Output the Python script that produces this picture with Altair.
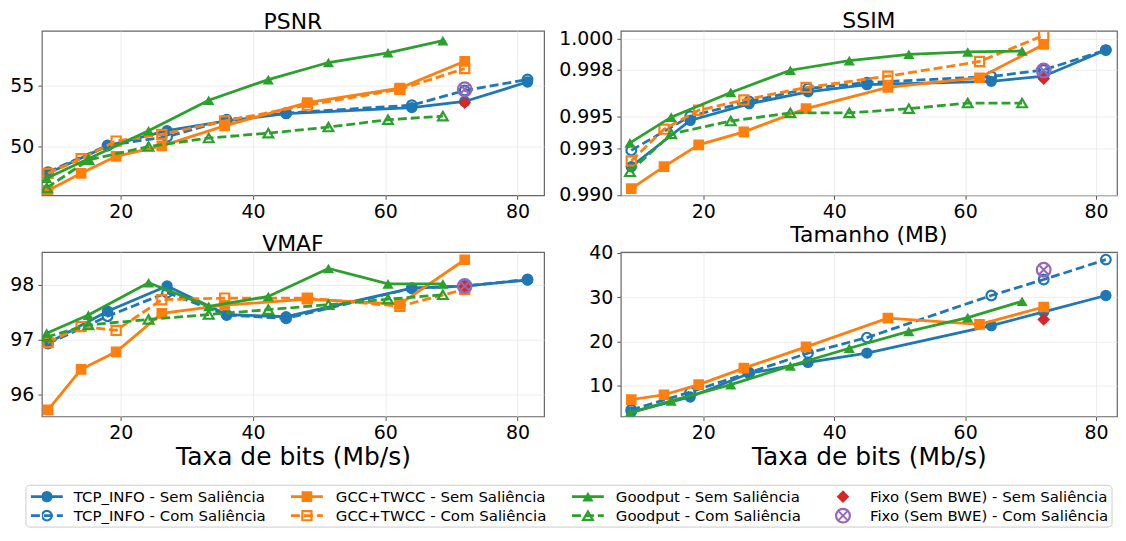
import altair as alt
import pandas as pd

# ---------------- data ----------------
SERIES = [
    "TCP_INFO - Sem Saliência", "TCP_INFO - Com Saliência",
    "GCC+TWCC - Sem Saliência", "GCC+TWCC - Com Saliência",
    "Goodput - Sem Saliência", "Goodput - Com Saliência",
    "Fixo (Sem BWE) - Sem Saliência", "Fixo (Sem BWE) - Com Saliência",
]

X_TCP = [9.0, 18.0, 27.0, 36.0, 45.0, 64.0, 72.0, 81.5]
X_GCC = [9.0, 14.0, 19.3, 26.2, 35.7, 48.2, 62.2, 72.0]
X_GP = [8.8, 15.1, 24.2, 33.3, 42.3, 51.4, 60.4, 68.7]
X_FIXO = [72.0]

PSNR_TCP_SEM = [47.8, 50.05, 51.3, 52.1, 52.7, 53.2, 53.7, 55.3]
PSNR_TCP_COM = [47.9, 50.1, 50.8, 52.2, 52.75, 53.4, 54.6, 55.5]
PSNR_GCC_SEM = [46.4, 47.8, 49.2, 50.05, 51.7, 53.6, 54.8, 57.0]
PSNR_GCC_COM = [47.8, 49.0, 50.45, 51.0, 52.1, 53.4, 54.7, 56.4]
PSNR_GP_SEM = [47.4, 49.0, 51.3, 53.8, 55.5, 56.9, 57.7, 58.7]
PSNR_GP_COM = [46.6, 48.9, 50.0, 50.7, 51.1, 51.6, 52.2, 52.5]
PSNR_FIXO_SEM = [53.6]
PSNR_FIXO_COM = [54.7]

SSIM_TCP_SEM = [0.99181, 0.99477, 0.99583, 0.99660, 0.99706, 0.99727, 0.99760, 0.99927]
SSIM_TCP_COM = [0.99285, 0.99504, 0.99598, 0.99681, 0.99719, 0.99758, 0.99800, 0.99927]
SSIM_GCC_SEM = [0.99040, 0.99181, 0.99321, 0.99404, 0.99552, 0.99688, 0.99750, 0.99963]
SSIM_GCC_COM = [0.99217, 0.99421, 0.99542, 0.99608, 0.99688, 0.99760, 0.99854, 1.00021]
SSIM_GP_SEM = [0.99333, 0.99498, 0.99656, 0.99798, 0.99860, 0.99900, 0.99915, 0.99921]
SSIM_GP_COM = [0.99148, 0.99390, 0.99473, 0.99525, 0.99525, 0.99552, 0.99588, 0.99588]
SSIM_FIXO_SEM = [0.99744]
SSIM_FIXO_COM = [0.99796]

VMAF_TCP_SEM = [96.94, 97.52, 97.98, 97.46, 97.42, 97.94, 97.98, 98.09]
VMAF_TCP_COM = [96.93, 97.43, 97.86, 97.45, 97.39, 97.94, 97.98, 98.10]
VMAF_GCC_SEM = [95.72, 96.46, 96.78, 97.48, 97.63, 97.74, 97.65, 98.46]
VMAF_GCC_COM = [96.95, 97.24, 97.17, 97.73, 97.76, 97.76, 97.61, 97.92]
VMAF_GP_SEM = [97.12, 97.45, 98.04, 97.61, 97.79, 98.30, 98.02, 98.02]
VMAF_GP_COM = [97.05, 97.27, 97.37, 97.46, 97.55, 97.64, 97.74, 97.82]
VMAF_FIXO_SEM = [97.97]
VMAF_FIXO_COM = [97.98]

SIZE_TCP_SEM = [4.1, 7.5, 12.8, 15.3, 17.4, 23.6, 26.7, 30.4]
SIZE_TCP_COM = [4.6, 8.6, 13.0, 17.4, 20.9, 30.4, 34.0, 38.5]
SIZE_GCC_SEM = [6.9, 8.0, 10.3, 14.0, 18.8, 25.3, 23.9, 27.8]
SIZE_GP_SEM = [3.9, 6.6, 10.3, 14.5, 18.5, 22.3, 25.4, 29.1]
SIZE_FIXO_SEM = [25.0]
SIZE_FIXO_COM = [36.2]

XS = {SERIES[0]: X_TCP, SERIES[1]: X_TCP, SERIES[2]: X_GCC, SERIES[3]: X_GCC,
      SERIES[4]: X_GP, SERIES[5]: X_GP, SERIES[6]: X_FIXO, SERIES[7]: X_FIXO}

VALUES = {
    "PSNR": [PSNR_TCP_SEM, PSNR_TCP_COM, PSNR_GCC_SEM, PSNR_GCC_COM,
             PSNR_GP_SEM, PSNR_GP_COM, PSNR_FIXO_SEM, PSNR_FIXO_COM],
    "SSIM": [SSIM_TCP_SEM, SSIM_TCP_COM, SSIM_GCC_SEM, SSIM_GCC_COM,
             SSIM_GP_SEM, SSIM_GP_COM, SSIM_FIXO_SEM, SSIM_FIXO_COM],
    "VMAF": [VMAF_TCP_SEM, VMAF_TCP_COM, VMAF_GCC_SEM, VMAF_GCC_COM,
             VMAF_GP_SEM, VMAF_GP_COM, VMAF_FIXO_SEM, VMAF_FIXO_COM],
    "Tamanho (MB)": [SIZE_TCP_SEM, SIZE_TCP_COM, SIZE_GCC_SEM, None,
                     SIZE_GP_SEM, None, SIZE_FIXO_SEM, SIZE_FIXO_COM],
}

rows = []
for metric, lists in VALUES.items():
    for s, ys in zip(SERIES, lists):
        if ys is None:
            continue
        for i, (xv, yv) in enumerate(zip(XS[s], ys)):
            rows.append({"metric": metric, "series": s, "x": xv, "y": yv, "i": i})
df = pd.DataFrame(rows)

# ---------------- styles ----------------
BLUE, ORANGE, GREEN, RED, PURPLE = "#1f77b4", "#ff7f0e", "#2ca02c", "#d62728", "#9467bd"
STYLE = {
    SERIES[0]: dict(color=BLUE, dash=False, shape="circle", filled=True, line=True, size=130),
    SERIES[1]: dict(color=BLUE, dash=True, shape="circle", filled=False, line=True, size=95),
    SERIES[2]: dict(color=ORANGE, dash=False, shape="square", filled=True, line=True, size=115),
    SERIES[3]: dict(color=ORANGE, dash=True, shape="square", filled=False, line=True, size=85),
    SERIES[4]: dict(color=GREEN, dash=False, shape="triangle-up", filled=True, line=True, size=125),
    SERIES[5]: dict(color=GREEN, dash=True, shape="triangle-up", filled=False, line=True, size=95),
    SERIES[6]: dict(color=RED, dash=False, shape="diamond", filled=True, line=False, size=160),
    SERIES[7]: dict(color=PURPLE, dash=False, shape="otimes", filled=False, line=False, size=190),
}
CROSS = "M-0.62,-0.62L0.62,0.62M0.62,-0.62L-0.62,0.62"
DASH = [9, 4]
LW = 2.8
FONT = "DejaVu Sans"

W_L, W_R, H = 504, 498, 165
XDOM_L = [8.07, 84.0]
XDOM_R = [7.4, 83.2]


def point_layers(chart, st, xenc, yenc):
    out = []
    if st["shape"] == "otimes":
        out.append(chart.mark_point(shape="circle", filled=False, size=st["size"], color=st["color"],
                                    strokeWidth=2.2, opacity=1, clip=True).encode(x=xenc, y=yenc))
        out.append(chart.mark_point(shape=CROSS, filled=False, size=st["size"], color=st["color"],
                                    strokeWidth=2, opacity=1, clip=True).encode(x=xenc, y=yenc))
    elif st["filled"]:
        out.append(chart.mark_point(shape=st["shape"], filled=True, size=st["size"], color=st["color"],
                                    opacity=1, clip=True).encode(x=xenc, y=yenc))
    else:
        out.append(chart.mark_point(shape=st["shape"], filled=False, size=st["size"], color=st["color"],
                                    strokeWidth=2.2, opacity=1, clip=True).encode(x=xenc, y=yenc))
    return out


def panel(metric, width, xdom, ydom, yticks, yfmt, extent, bottom):
    xaxis_kw = dict(values=[20, 40, 60, 80], labelFontSize=19, labelPadding=3, tickSize=4,
                    grid=True, labelFlush=False)
    if bottom:
        xaxis = alt.Axis(title="Taxa de bits (Mb/s)", titleFontSize=25, titlePadding=2, **xaxis_kw)
    else:
        xaxis = alt.Axis(title=None, **xaxis_kw)
    yaxis = alt.Axis(values=yticks, format=yfmt, title=None, labelFontSize=19, labelPadding=4,
                     tickSize=4, grid=True, minExtent=extent, maxExtent=extent)
    xenc = alt.X("x:Q", scale=alt.Scale(domain=xdom, nice=False, zero=False), axis=xaxis)
    yenc = alt.Y("y:Q", scale=alt.Scale(domain=ydom, nice=False, zero=False), axis=yaxis)
    base = alt.Chart(df).transform_filter(alt.datum.metric == metric)
    present = set(df[df.metric == metric].series)
    layers = []
    for s in SERIES:
        if s not in present:
            continue
        st = STYLE[s]
        sub = base.transform_filter(alt.datum.series == s)
        if st["line"]:
            kw = dict(color=st["color"], strokeWidth=LW, clip=True)
            if st["dash"]:
                kw["strokeDash"] = DASH
            layers.append(sub.mark_line(**kw).encode(x=xenc, y=yenc, order="i:Q"))
        layers.extend(point_layers(sub, st, xenc, yenc))
    return alt.layer(*layers).properties(
        width=width, height=H,
        title=alt.TitleParams(metric, frame="group", fontSize=22, font=FONT, fontWeight="normal",
                              offset=-3.5, color="black"),
    )


psnr = panel("PSNR", W_L, XDOM_L, [46.0, 59.5], [50, 55], "d", 33, False)
ssim = panel("SSIM", W_R, XDOM_R, [0.98998, 1.0005], [0.990, 0.993, 0.995, 0.998, 1.000], ".3f", 62, False)
vmaf = panel("VMAF", W_L, XDOM_L, [95.6, 98.6], [96, 97, 98], "d", 33, True)
size = panel("Tamanho (MB)", W_R, XDOM_R, [3.1, 40.2], [10, 20, 30, 40], "d", 62, True)

# ---------------- legend ----------------
LEG_COL = [0, 0, 1, 1, 2, 2, 3, 3]
LEG_ROW = [0, 1, 0, 1, 0, 1, 0, 1]
leg_df = pd.DataFrame({"label": SERIES, "col": LEG_COL, "row": LEG_ROW})
BOX_LEFT = -16          # legend frame starts 16px left of the panels' plot edge
COL_MARK = [5, 266, 548, 804]
COL_TEXT = [32, 295, 576, 831]
LEG_W, LEG_H = 1074, 42

leg_y = alt.Y("row:O", scale=alt.Scale(type="point", padding=0.6, domain=[0, 1]), axis=None)
leg_layers = [
    alt.Chart(leg_df).transform_filter("datum.col == 0 && datum.row == 0").mark_rect(
        stroke="#cccccc", strokeWidth=1, fill="white", cornerRadius=4
    ).encode(x=alt.value(BOX_LEFT), x2=alt.value(LEG_W), y=alt.value(0), y2=alt.value(LEG_H))
]
for s, c in zip(SERIES, LEG_COL):
    st = STYLE[s]
    sub = alt.Chart(leg_df).transform_filter(alt.datum.label == s)
    mx = COL_MARK[c]
    if st["line"]:
        kw = dict(color=st["color"], strokeWidth=LW)
        if st["dash"]:
            kw["strokeDash"] = DASH
        leg_layers.append(sub.mark_rule(**kw).encode(x=alt.value(mx - 16), x2=alt.value(mx + 16), y=leg_y))
    for lay in point_layers(sub, st, alt.value(mx), leg_y):
        leg_layers.append(lay)
    leg_layers.append(sub.mark_text(align="left", baseline="middle", fontSize=15, font=FONT,
                                    color="black").encode(x=alt.value(COL_TEXT[c]), y=leg_y, text="label:N"))

legend = alt.layer(*leg_layers).properties(
    width=LEG_W, height=LEG_H,
    view=alt.ViewBackground(stroke="transparent"),
)

grid = alt.vconcat(
    alt.hconcat(psnr, ssim, spacing=13),
    alt.hconcat(vmaf, size, spacing=13),
    spacing=1,
)
chart = alt.vconcat(grid, legend, spacing=13).properties(
    padding=0
).configure_view(
    stroke="#666666", strokeWidth=1.2
).configure_axis(
    labelFont=FONT, titleFont=FONT, labelColor="black", titleColor="black",
    titleFontWeight="normal", tickColor="#555555", domain=False,
    gridColor="#e8e8e8", gridWidth=0.8,
)

chart.save("out.html", embed_options={"renderer": "svg", "actions": False})
